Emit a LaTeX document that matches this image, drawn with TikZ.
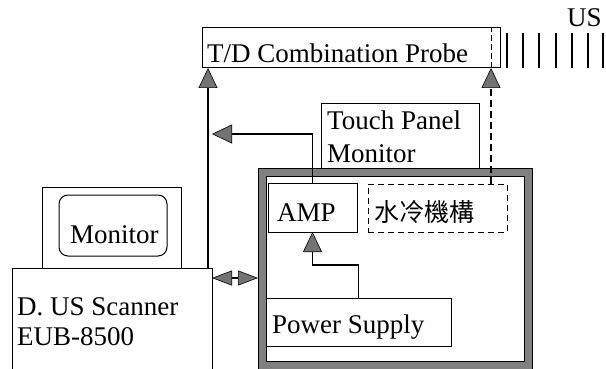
\documentclass[tikz,border=0pt]{standalone}
\usepackage{fontspec}
\setmainfont{Liberation Serif}
\newfontfamily\labelfont{Liberation Serif}
\newfontfamily\cjkfont{Noto Sans CJK TC}
\usetikzlibrary{arrows.meta}

\begin{document}
\begin{tikzpicture}[x=1pt,y=-1pt,
  box/.style={draw, line width=1pt, inner sep=0pt, outer sep=0pt},
  lbl/.style={anchor=base west, inner sep=0pt, font=\labelfont\fontsize{27}{30}\selectfont},
  tri/.tip={Triangle[width=19pt,length=20pt,fill=black!55,line width=0.6pt]},
  smalltri/.tip={Triangle[width=15pt,length=20pt,fill=black!55,line width=0.6pt]},
  tip/.style={-tri, line width=1.3pt},
  dbl/.style={smalltri-smalltri, line width=1.3pt},
  dashline/.style={line width=1.3pt, dash pattern=on 7pt off 4pt},
]
\useasboundingbox (0,0) rectangle (606,369);

% probe and ultrasound beam lines
\node[box, minimum width=298pt, minimum height=40pt] (probe) at (351,48) {};
\node[lbl] (probetxt) at (207,63) {T/D Combination Probe};
\foreach \xx in {507,523,539,556,572,588,603}
  \draw[line width=1.3pt] (\xx,33) -- (\xx,68);
\node[lbl] (us) at (567,27) {US};

% ultrasound scanner with its monitor
\node[minimum width=200pt, minimum height=101pt, inner sep=0pt, outer sep=0pt] (scanner) at (112,318.5) {};
\draw[line width=1pt] (scanner.south west) -- (scanner.north west) -- (scanner.north east) -- (scanner.south east);
\node[lbl] (scantxt1) at (17,315) {D. US Scanner};
\node[lbl] (scantxt2) at (17,345) {EUB-8500};
\node[box, minimum width=139pt, minimum height=81pt] (monitor) at (111.5,227.5) {};
\node[box, rounded corners=9pt, minimum width=108pt, minimum height=61pt] (screen) at (113,225.5) {};
\node[lbl] (montxt) at (70,243) {Monitor};

% main unit with thick frame
\node[box, minimum width=274pt, minimum height=201pt] (main) at (395,268.5) {};
\draw[line width=7pt, black!50] ([shift={(4,4)}]main.north west) rectangle ([shift={(-4,-4)}]main.south east);
\draw[line width=1pt] ([shift={(8,8)}]main.north west) rectangle ([shift={(-8,-8)}]main.south east);
\draw[line width=1pt] (main.north west) rectangle (main.south east);

% touch panel monitor
\node[box, fill=white, minimum width=158pt, minimum height=64pt] (touch) at (400,136) {};
\node[lbl] (touchtxt1) at (327,130) {Touch Panel};
\node[lbl] (touchtxt2) at (327,162) {Monitor};

% modules inside the main unit
\node[box, minimum width=89pt, minimum height=49pt] (amp) at (312.5,207.5) {};
\node[lbl] (amptxt) at (277,222) {AMP};
\node[box, dashed, dash pattern=on 6pt off 4pt, minimum width=139pt, minimum height=48pt] (cool) at (437.5,208) {};
\node[anchor=base west, inner sep=0pt, font=\cjkfont\fontsize{25}{28}\selectfont] (cooltxt) at (374,222) {水冷機構};
\node[box, minimum width=185pt, minimum height=48pt] (ps) at (358.5,322) {};
\node[lbl] (pstxt) at (272,333) {Power Supply};

% connectors
\coordinate (scantop) at (208,268);
\draw[tip] (scantop) -- (scantop |- probe.south);
\coordinate (lefttip) at (212,134);
\draw[tip] (amp.north) |- (lefttip);
\coordinate (coolout) at (491,184);
\draw[tip, dashline] (coolout) -- (coolout |- probe.south);
\draw[line width=1pt, dash pattern=on 6pt off 3pt] (coolout |- probe.south) -- (coolout |- probe.north);
\draw[tip] (ps.north) -- ++(0,-33) -| (amp.south);
\draw[dbl] ([yshift=-10pt]scanner.north east) -- ([yshift=-10pt]scanner.north east -| main.west);
\end{tikzpicture}
\end{document}
